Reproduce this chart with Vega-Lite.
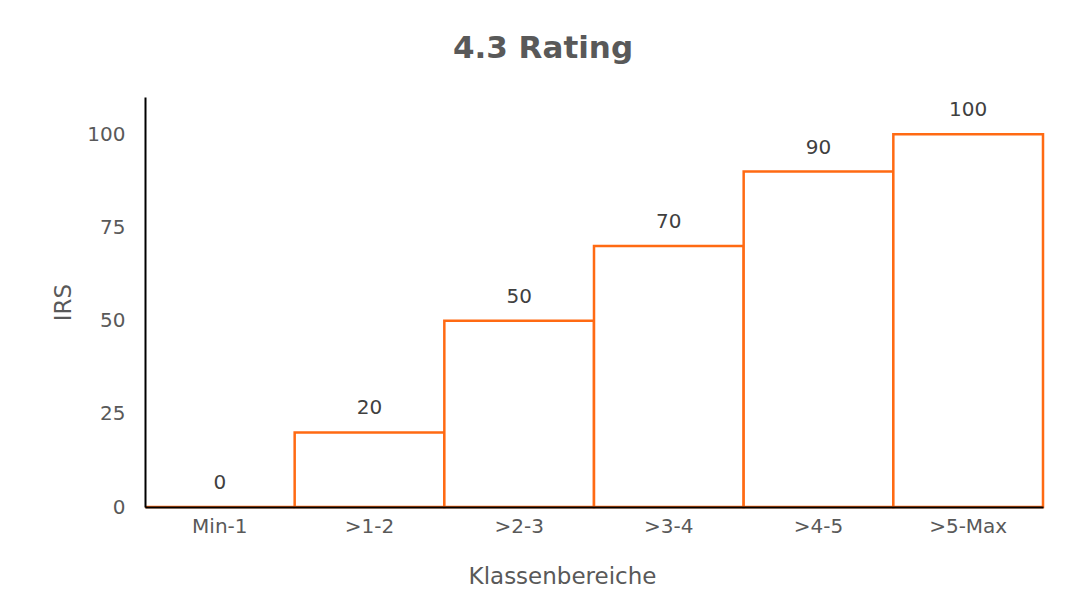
{
  "$schema": "https://vega.github.io/schema/vega-lite/v6.json",
  "width": 898,
  "height": 410,
  "autosize": {"type": "none"},
  "padding": {"left": 145, "top": 97, "right": 29, "bottom": 102},
  "background": "white",
  "title": {
    "text": "4.3 Rating",
    "font": "DejaVu Sans",
    "fontSize": 31,
    "fontWeight": "bold",
    "color": "#595959",
    "anchor": "middle",
    "dx": -51,
    "offset": 32
  },
  "data": {
    "values": [
      {"klasse": "Min-1", "irs": 0},
      {"klasse": ">1-2", "irs": 20},
      {"klasse": ">2-3", "irs": 50},
      {"klasse": ">3-4", "irs": 70},
      {"klasse": ">4-5", "irs": 90},
      {"klasse": ">5-Max", "irs": 100}
    ]
  },
  "encoding": {
    "x": {
      "field": "klasse",
      "type": "nominal",
      "sort": null,
      "scale": {"paddingInner": 0, "paddingOuter": 0},
      "axis": {
        "title": "Klassenbereiche",
        "titleX": 417,
        "labelAngle": 0,
        "ticks": false,
        "domainColor": "black",
        "domainWidth": 2,
        "labelPadding": 9,
        "titlePadding": 29,
        "zindex": 1
      }
    },
    "y": {
      "field": "irs",
      "type": "quantitative",
      "scale": {"domain": [0, 110]},
      "axis": {
        "title": "IRS",
        "values": [0, 25, 50, 75, 100],
        "grid": false,
        "ticks": false,
        "domainColor": "black",
        "domainWidth": 2,
        "labelPadding": 20,
        "titlePadding": 11,
        "zindex": 1
      }
    }
  },
  "layer": [
    {
      "mark": {"type": "bar", "fill": "white", "stroke": "#FF6A13", "strokeWidth": 2.5}
    },
    {
      "mark": {"type": "text", "baseline": "middle", "dy": -24, "font": "DejaVu Sans", "fontSize": 20, "color": "#404040"},
      "encoding": {"text": {"field": "irs", "type": "quantitative"}}
    }
  ],
  "config": {
    "view": {"stroke": null},
    "axis": {
      "labelFont": "DejaVu Sans",
      "labelFontSize": 20,
      "labelColor": "#595959",
      "titleFont": "DejaVu Sans",
      "titleFontSize": 23,
      "titleFontWeight": "normal",
      "titleColor": "#595959"
    }
  }
}
